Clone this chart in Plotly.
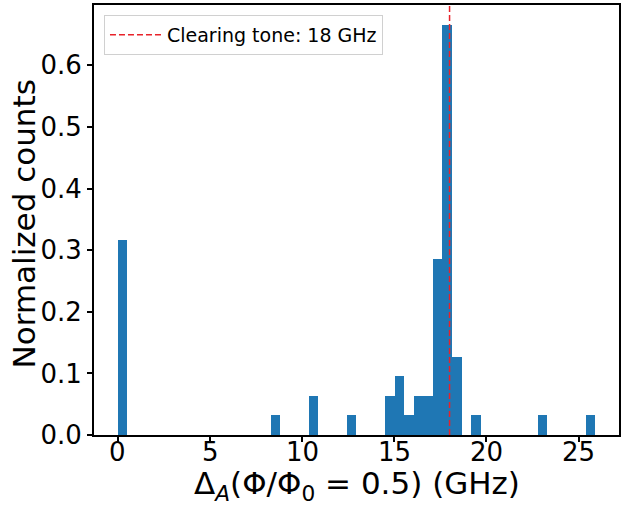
import plotly.graph_objects as go

# Histogram values (density-normalised counts)
bin_width = 0.518
bin_centers = [0.26, 8.55, 10.62, 12.69, 14.76, 15.28, 15.80, 16.32, 16.83,
               17.35, 17.87, 18.39, 19.42, 23.05, 25.64]
heights = [0.316, 0.032, 0.063, 0.032, 0.063, 0.095, 0.032, 0.063, 0.063,
           0.285, 0.665, 0.127, 0.032, 0.032, 0.032]
clearing_tone = 18.0
legend_label = "Clearing tone: 18 GHz"
x_ticks = [0, 5, 10, 15, 20, 25]
x_tick_labels = ["0", "5", "10", "15", "20", "25"]
y_ticks = [0.0, 0.1, 0.2, 0.3, 0.4, 0.5, 0.6]
x_title = "Δ<sub><i>A</i></sub>(Φ/Φ<sub>0</sub> = 0.5) (GHz)"
y_title = "Normalized counts"

x_range = [-1.295, 27.195]
y_range = [0, 0.698]

FONT = "DejaVu Sans"

fig = go.Figure()
fig.add_trace(go.Bar(
    x=bin_centers, y=heights, width=[bin_width] * len(bin_centers),
    marker=dict(color="#1f77b4", line=dict(width=0)),
    showlegend=False, hoverinfo="x+y",
))
fig.add_trace(go.Scatter(
    x=[clearing_tone, clearing_tone], y=y_range,
    mode="lines", name=legend_label,
    line=dict(color="#e8222a", width=1.5, dash="6px,3px"),
))

axis_common = dict(
    showline=True, linecolor="black", linewidth=2, mirror=True,
    ticks="outside", ticklen=5, tickwidth=1.6, tickcolor="black",
    showgrid=False, zeroline=False,
    tickfont=dict(family=FONT, size=26, color="black"),
)

# x tick labels placed at the axis' own tick values (data coordinates)
tick_annotations = [
    dict(text=lab, xref="x", yref="paper", x=val, y=0, yshift=-17,
         xanchor="center", yanchor="middle", showarrow=False,
         font=dict(family=FONT, size=26, color="black"))
    for val, lab in zip(x_ticks, x_tick_labels)
]

fig.update_layout(
    width=621, height=506,
    margin=dict(l=94, r=0, t=5, b=71),
    plot_bgcolor="white", paper_bgcolor="white",
    bargap=0,
    font=dict(family=FONT, color="black"),
    xaxis=dict(range=x_range, tickvals=x_ticks, showticklabels=False, **axis_common),
    yaxis=dict(range=y_range, tickvals=y_ticks, tickformat=".1f", **axis_common),
    legend=dict(x=0.019, y=0.977, xanchor="left", yanchor="top",
                itemwidth=52,
                bgcolor="rgba(255,255,255,0.8)", bordercolor="#d0d0d0",
                borderwidth=1, font=dict(family=FONT, size=19, color="black")),
    annotations=tick_annotations + [
        dict(text=x_title, xref="paper", yref="paper", x=0.5, y=-0.118,
             xanchor="center", yanchor="middle", showarrow=False,
             font=dict(family=FONT, size=31, color="black")),
        dict(text=y_title, xref="paper", yref="paper", x=-0.133, y=0.49,
             xanchor="center", yanchor="middle", textangle=-90, showarrow=False,
             font=dict(family=FONT, size=31, color="black")),
    ],
)

fig.write_html("out.html")
